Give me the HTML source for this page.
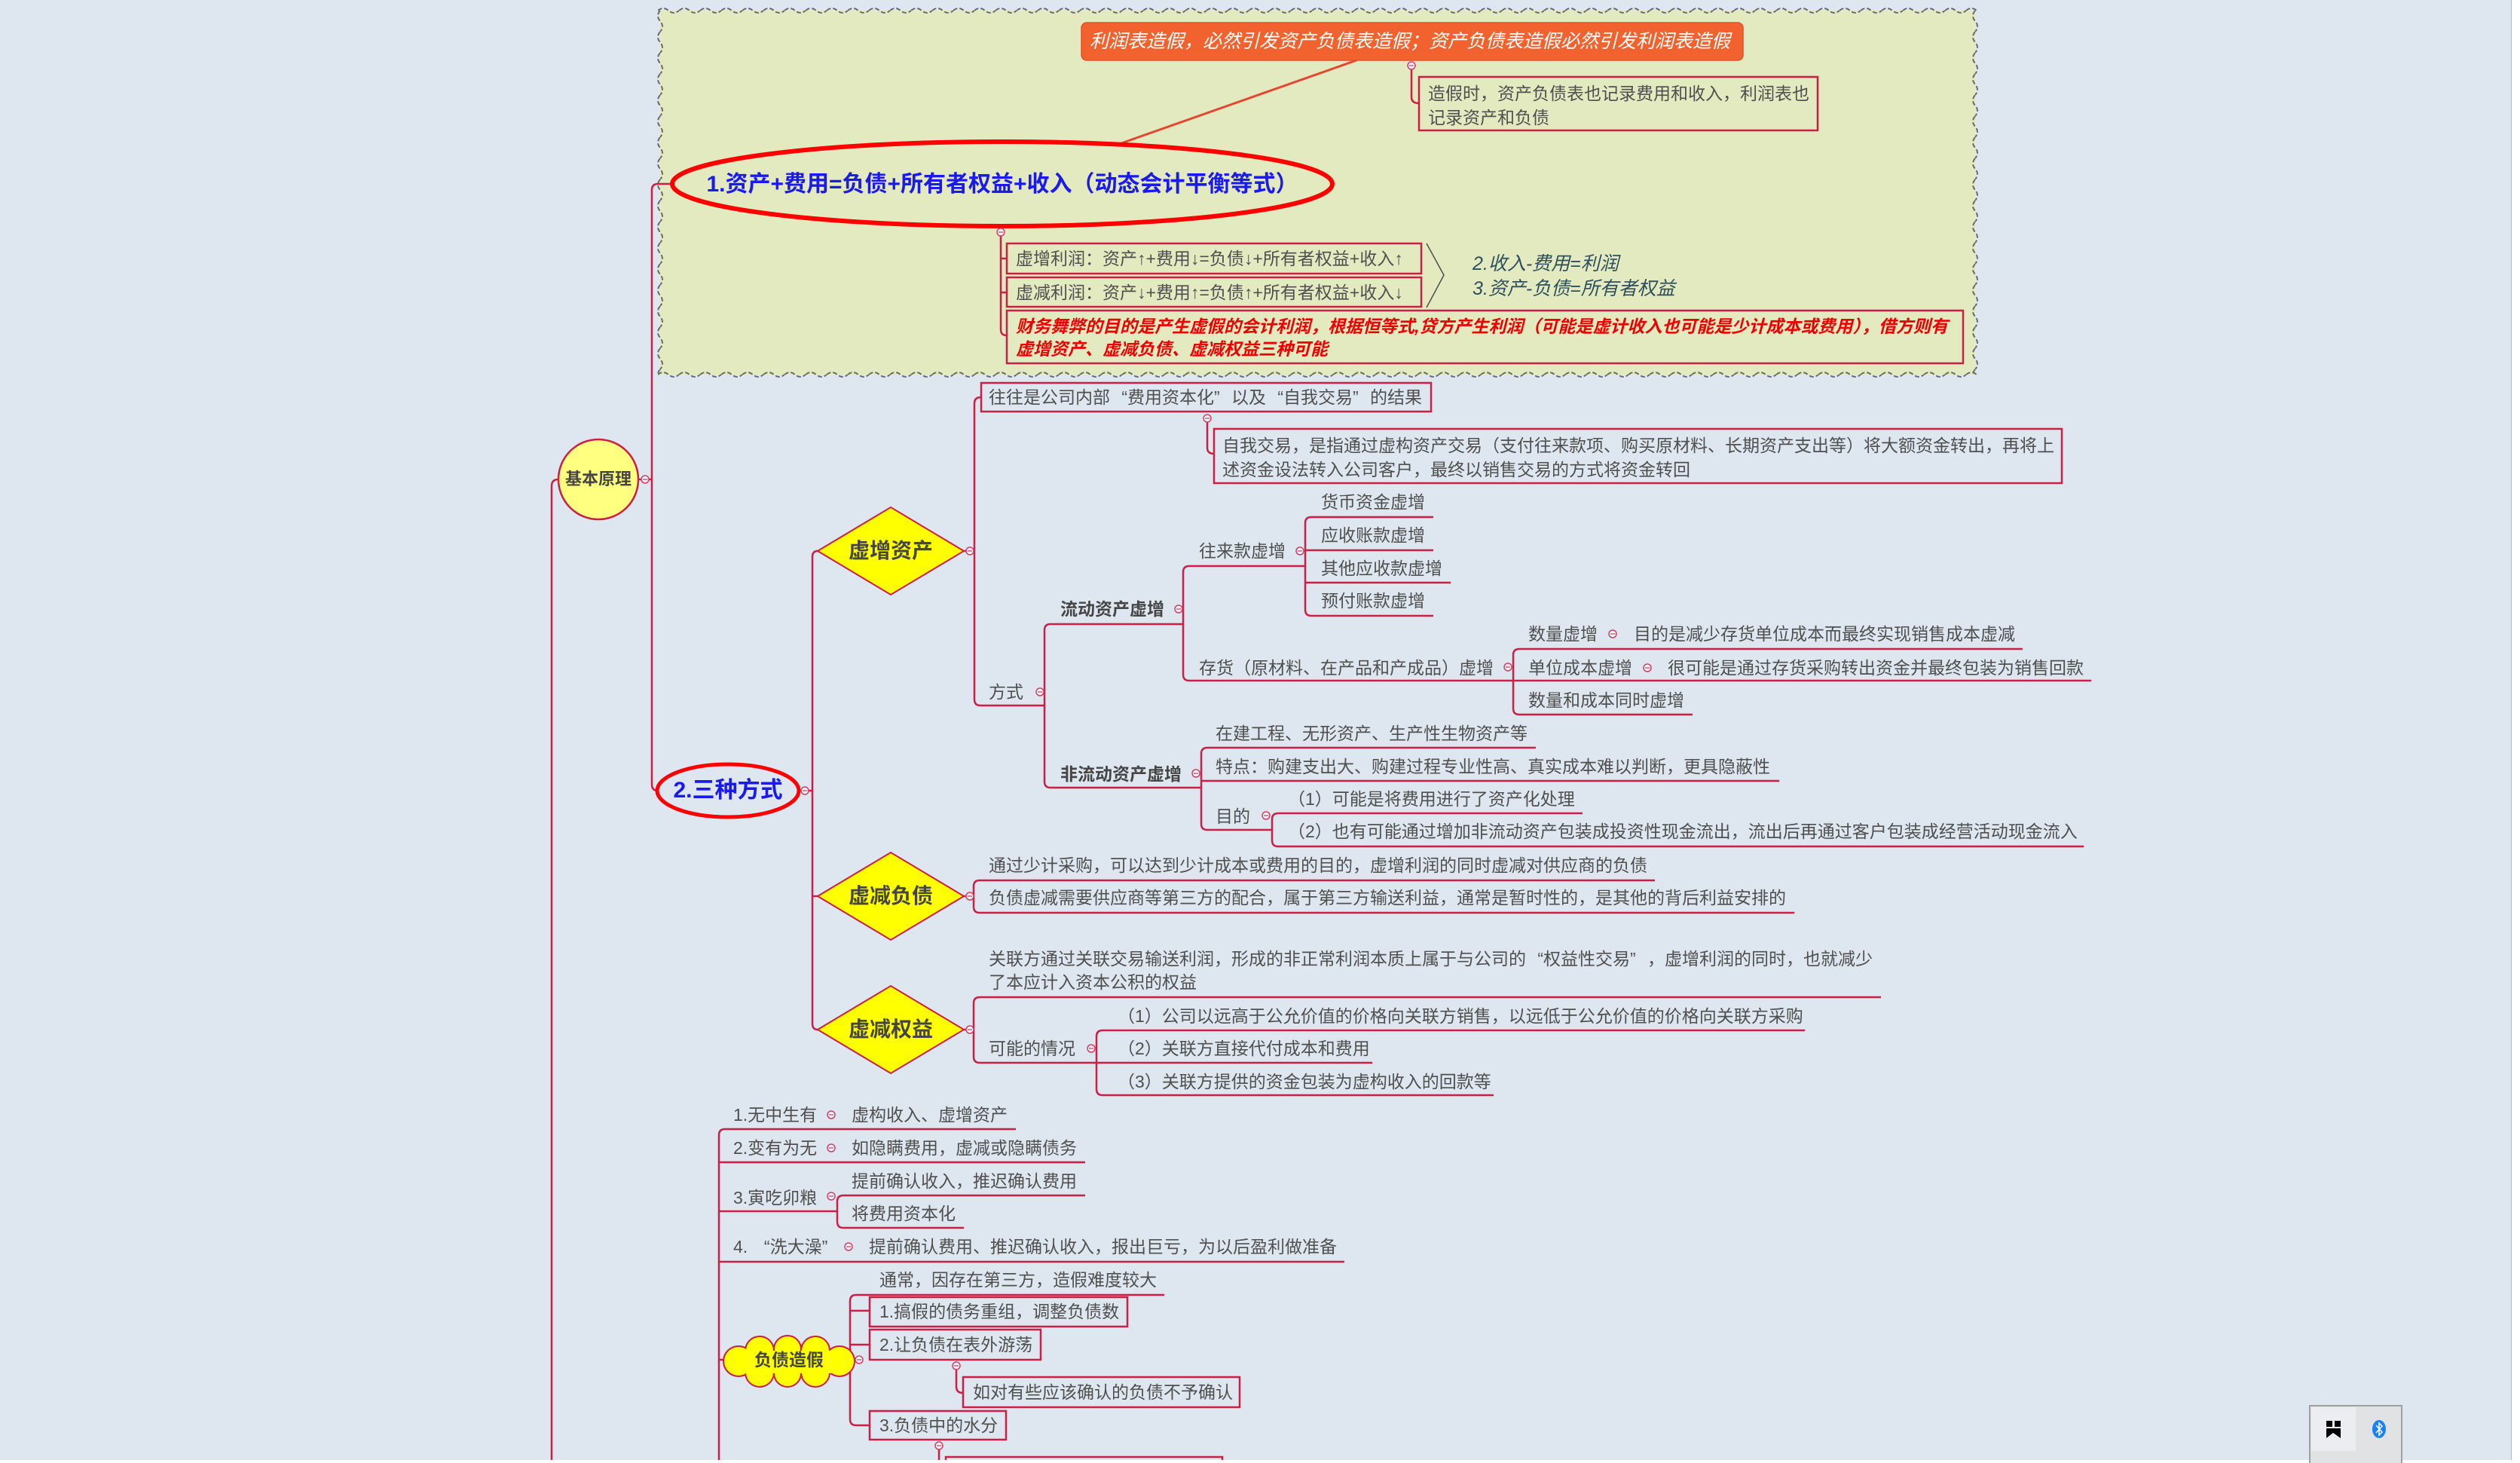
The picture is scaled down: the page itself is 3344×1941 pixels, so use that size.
<!DOCTYPE html>
<html>
<head>
<meta charset="utf-8">
<style>
html,body{margin:0;padding:0;}
body{width:3344px;height:1941px;overflow:hidden;position:relative;background:#dee7f0;font-family:"Liberation Sans","Noto Sans CJK SC",sans-serif;}
svg{position:absolute;left:0;top:0;}
.t{position:absolute;white-space:nowrap;font-size:23px;line-height:30px;color:#4f4f4f;font-family:"Liberation Sans","Noto Sans CJK SC",sans-serif;}
.b{font-weight:bold;color:#454545;}
.c{text-align:center;}
.qo{display:inline-block;width:23px;text-align:right;}
.qc{display:inline-block;width:23px;text-align:left;}
</style>
</head>
<body>
<svg width="3344" height="1941" viewBox="0 0 3344 1941">
<defs>
<pattern id="wh" x="873" y="8" width="28" height="12" patternUnits="userSpaceOnUse"><path d="M0 6 Q7 0 14 6 T28 6" fill="none" stroke="#6a6a6a" stroke-width="2" stroke-dasharray="6 3"/></pattern>
<pattern id="wh2" x="873" y="491" width="28" height="12" patternUnits="userSpaceOnUse"><path d="M0 6 Q7 0 14 6 T28 6" fill="none" stroke="#6a6a6a" stroke-width="2" stroke-dasharray="6 3"/></pattern>
<pattern id="wv" x="870" y="14" width="12" height="28" patternUnits="userSpaceOnUse"><path d="M6 0 Q0 7 6 14 T6 28" fill="none" stroke="#6a6a6a" stroke-width="2" stroke-dasharray="6 3"/></pattern>
<pattern id="wv2" x="2615" y="14" width="12" height="28" patternUnits="userSpaceOnUse"><path d="M6 0 Q0 7 6 14 T6 28" fill="none" stroke="#6a6a6a" stroke-width="2" stroke-dasharray="6 3"/></pattern>
</defs>

<!-- green boundary -->
<rect x="876" y="14" width="1745" height="483" fill="#e3eac0"/>
<rect x="873" y="8" width="1752" height="12" fill="url(#wh)"/>
<rect x="873" y="491" width="1752" height="12" fill="url(#wh2)"/>
<rect x="870" y="14" width="12" height="483" fill="url(#wv)"/>
<rect x="2615" y="14" width="12" height="483" fill="url(#wv2)"/>

<!-- connectors -->
<g stroke="#cc1f45" stroke-width="2.5" fill="none">
<path d="M892 244 H873 Q865 244 865 252 V1041 Q865 1049 873 1049"/>
<path d="M848 636 H865"/>
<path d="M741 636 Q732 636 732 645 V1941"/>
<path d="M1328 313 V437 Q1328 445 1336 445"/>
<path d="M1328 343 H1336 M1328 388 H1336"/>
<path d="M1873 92 V129 Q1873 137 1883 137"/>

<path d="M1061 1049 H1078"/>
<path d="M1085 731 Q1078 731 1078 739 V1358 Q1078 1366 1085 1366"/>
<path d="M1078 1189 H1085"/>
<path d="M1279 731 H1293 M1279 1189 H1292 M1279 1366 H1292"/>
<path d="M1302 527 Q1293 527 1293 535 V928 Q1293 936 1301 936 H1386"/>
<path d="M1602 560 V594 Q1602 602 1611 602"/>
<path d="M1570 828 H1394 Q1386 828 1386 836 V1037 Q1386 1045 1394 1045 H1594"/>
<path d="M1732 751 H1578 Q1570 751 1570 759 V895 Q1570 903 1578 903 H2775"/>
<path d="M1902 686 H1740 Q1732 686 1732 694 V809 Q1732 817 1740 817 H1902"/>
<path d="M1732 730 H1902 M1732 773 H1925"/>
<path d="M2684 861 H2016 Q2008 861 2008 869 V940 Q2008 948 2016 948 H2246"/>
<path d="M2038 992 H1602 Q1594 992 1594 1000 V1093 Q1594 1101 1602 1101 H1688"/>
<path d="M1594 1036 H2361"/>
<path d="M2100 1079 H1696 Q1688 1079 1688 1087 V1115 Q1688 1123 1696 1123 H2765"/>
<path d="M2196 1168 H1300 Q1292 1168 1292 1176 V1203 Q1292 1211 1300 1211 H2381"/>
<path d="M2496 1323 H1300 Q1292 1323 1292 1331 V1402 Q1292 1410 1300 1410 H1455"/>
<path d="M2395 1367 H1463 Q1455 1367 1455 1375 V1445 Q1455 1453 1463 1453 H1982"/>
<path d="M1455 1410 H1821"/>

<path d="M1348 1498 H962 Q954 1498 954 1506 V1941"/>
<path d="M954 1542 H1440 M954 1607 H1111 M954 1674 H1784 M954 1804 H962"/>
<path d="M1440 1586 H1119 Q1111 1586 1111 1594 V1621 Q1111 1629 1119 1629 H1279"/>
<path d="M1545 1718 H1136 Q1128 1718 1128 1726 V1883 Q1128 1891 1136 1891 H1154"/>
<path d="M1128 1739 H1154 M1128 1784 H1154"/>
<path d="M1269 1817 V1840 Q1269 1848 1278 1848"/>
<path d="M1246 1923 V1941"/>
</g>

<!-- boxes -->
<g stroke="#cc1f45" stroke-width="2.5" fill="none">
<rect x="1336" y="323" width="550" height="40"/>
<rect x="1336" y="368" width="550" height="39"/>
<rect x="1336" y="412" width="1269" height="70"/>
<rect x="1883" y="102" width="529" height="71"/>
<rect x="1302" y="508" width="597" height="38"/>
<rect x="1611" y="569" width="1125" height="72"/>
<rect x="1154" y="1721" width="342" height="39"/>
<rect x="1154" y="1764" width="227" height="40"/>
<rect x="1278" y="1827" width="367" height="40"/>
<rect x="1154" y="1872" width="181" height="38"/>
<rect x="1255" y="1933" width="367" height="20"/>
</g>

<!-- orange callout -->
<line x1="1488" y1="190" x2="1800" y2="80" stroke="#e8452e" stroke-width="3"/>
<rect x="1435" y="30" width="878" height="50" rx="7" fill="#f2622e" stroke="#e0532a" stroke-width="1.5"/>

<!-- ellipses -->
<ellipse cx="1330" cy="244" rx="438" ry="56" fill="none" stroke="#ff0000" stroke-width="6"/>
<ellipse cx="966" cy="1049" rx="94" ry="35" fill="none" stroke="#ff0000" stroke-width="5"/>

<!-- brace -->
<polyline points="1893,323 1916,365 1893,408" fill="none" stroke="#555" stroke-width="1.6"/>

<!-- basic circle -->
<circle cx="794" cy="636" r="53" fill="#ffff80" stroke="#cc1f45" stroke-width="2.5"/>

<!-- diamonds -->
<g fill="#ffff00" stroke="#cc1f45" stroke-width="2">
<polygon points="1085,731 1182,673 1279,731 1182,789"/>
<polygon points="1085,1189 1182,1131 1279,1189 1182,1247"/>
<polygon points="1085,1366 1182,1308 1279,1366 1182,1424"/>
</g>

<!-- cloud -->
<g fill="#ffff00" stroke="#cc1f45" stroke-width="4">
<circle cx="980" cy="1806" r="19"/>
<circle cx="1114" cy="1806" r="19"/>
<circle cx="1008" cy="1792" r="18"/>
<circle cx="1045" cy="1790" r="17"/>
<circle cx="1082" cy="1792" r="18"/>
<circle cx="1008" cy="1821" r="18"/>
<circle cx="1045" cy="1822" r="17"/>
<circle cx="1082" cy="1821" r="18"/>
</g>
<g fill="#ffff00">
<circle cx="980" cy="1806" r="19"/>
<circle cx="1114" cy="1806" r="19"/>
<circle cx="1008" cy="1792" r="18"/>
<circle cx="1045" cy="1790" r="17"/>
<circle cx="1082" cy="1792" r="18"/>
<circle cx="1008" cy="1821" r="18"/>
<circle cx="1045" cy="1822" r="17"/>
<circle cx="1082" cy="1821" r="18"/>
<rect x="985" y="1792" width="128" height="30"/>
</g>

<!-- collapse markers -->
<g stroke="#d04065" stroke-width="1.5" fill="#f3f3f5">
<circle cx="856" cy="636" r="5"/><circle cx="1328" cy="308" r="5"/><circle cx="1873" cy="87" r="5"/>
<circle cx="1068" cy="1049" r="5"/><circle cx="1287" cy="731" r="5"/><circle cx="1287" cy="1189" r="5"/>
<circle cx="1287" cy="1366" r="5"/><circle cx="1602" cy="555" r="5"/><circle cx="1380" cy="918" r="5"/>
<circle cx="1564" cy="808" r="5"/><circle cx="1725" cy="731" r="5"/><circle cx="2001" cy="885" r="5"/>
<circle cx="2140" cy="841" r="5"/><circle cx="2186" cy="886" r="5"/><circle cx="1587" cy="1026" r="5"/>
<circle cx="1680" cy="1082" r="5"/><circle cx="1448" cy="1391" r="5"/><circle cx="1103" cy="1479" r="5"/>
<circle cx="1103" cy="1523" r="5"/><circle cx="1103" cy="1587" r="5"/><circle cx="1126" cy="1654" r="5"/>
<circle cx="1140" cy="1804" r="5"/><circle cx="1269" cy="1812" r="5"/><circle cx="1246" cy="1918" r="5"/>
</g>
<g stroke="#d04065" stroke-width="1.3">
<path d="M853 636h6M1325 308h6M1870 87h6M1065 1049h6M1284 731h6M1284 1189h6M1284 1366h6M1599 555h6M1377 918h6M1561 808h6M1722 731h6M1998 885h6M2137 841h6M2183 886h6M1584 1026h6M1677 1082h6M1445 1391h6M1100 1479h6M1100 1523h6M1100 1587h6M1123 1654h6M1137 1804h6M1266 1812h6M1243 1918h6"/>
</g>

<!-- bottom-right popup -->
<rect x="3333" y="0" width="11" height="1941" fill="#ffffff"/>
<line x1="3332.5" y1="0" x2="3332.5" y2="1937" stroke="#b5b8bc" stroke-width="1"/>
<rect x="0" y="1937" width="3344" height="4" fill="#ffffff"/>
<rect x="3065" y="1865" width="122" height="80" fill="#e1e2e4" stroke="#a0a0a0" stroke-width="2"/>
<rect x="3067" y="1867" width="59" height="58" fill="#ecedf0"/>
<rect x="3087" y="1885" width="8" height="8" fill="#000"/>
<rect x="3098" y="1885" width="8" height="8" fill="#000"/>
<polygon points="3087,1895 3106,1895 3106,1908 3096,1901 3087,1908" fill="#000"/>
<ellipse cx="3157" cy="1896" rx="9" ry="12" fill="#1a82f0"/>
<path d="M3153 1891 L3161 1900 L3157 1904 V1888 L3161 1892 L3153 1901" fill="none" stroke="#fff" stroke-width="1.5"/>
</svg>

<!-- top area texts -->
<div class="t" style="left:1446px;top:38px;font-size:25px;line-height:34px;color:#ffffff;font-style:italic;">利润表造假，必然引发资产负债表造假；资产负债表造假必然引发利润表造假</div>
<div class="t" style="left:1895px;top:108px;line-height:32px;">造假时，资产负债表也记录费用和收入，利润表也<br>记录资产和负债</div>
<div class="t c" style="left:892px;top:225px;width:876px;font-size:30px;line-height:40px;font-weight:bold;color:#1a1aee;">1.资产+费用=负债+所有者权益+收入（动态会计平衡等式）</div>
<div class="t" style="left:1348px;top:328px;">虚增利润：资产↑+费用↓=负债↓+所有者权益+收入↑</div>
<div class="t" style="left:1348px;top:373px;">虚减利润：资产↓+费用↑=负债↑+所有者权益+收入↓</div>
<div class="t" style="left:1348px;top:418px;line-height:30px;color:#ee0000;font-weight:bold;font-style:italic;">财务舞弊的目的是产生虚假的会计利润，根据恒等式,贷方产生利润（可能是虚计收入也可能是少计成本或费用），借方则有<br>虚增资产、虚减负债、虚减权益三种可能</div>
<div class="t" style="left:1954px;top:334px;font-size:25px;line-height:32px;font-style:italic;color:#2d4f5e;">2.收入-费用=利润</div>
<div class="t" style="left:1954px;top:367px;font-size:25px;line-height:32px;font-style:italic;color:#2d4f5e;">3.资产-负债=所有者权益</div>

<!-- central nodes -->
<div class="t c b" style="left:734px;top:621px;width:120px;font-size:22px;">基本原理</div>
<div class="t c" style="left:876px;top:1029px;width:180px;font-size:30px;line-height:40px;font-weight:bold;color:#1a1aee;">2.三种方式</div>
<div class="t c b" style="left:1082px;top:713px;width:200px;font-size:28px;line-height:36px;">虚增资产</div>
<div class="t c b" style="left:1082px;top:1171px;width:200px;font-size:28px;line-height:36px;">虚减负债</div>
<div class="t c b" style="left:1082px;top:1348px;width:200px;font-size:28px;line-height:36px;">虚减权益</div>
<div class="t c b" style="left:987px;top:1789px;width:120px;font-size:23px;">负债造假</div>

<!-- 虚增资产 branch -->
<div class="t" style="left:1312px;top:512px;">往往是公司内部<span class="qo">“</span>费用资本化<span class="qc">”</span>以及<span class="qo">“</span>自我交易<span class="qc">”</span>的结果</div>
<div class="t" style="left:1622px;top:575px;line-height:32px;">自我交易，是指通过虚构资产交易（支付往来款项、购买原材料、长期资产支出等）将大额资金转出，再将上<br>述资金设法转入公司客户，最终以销售交易的方式将资金转回</div>
<div class="t" style="left:1312px;top:903px;">方式</div>
<div class="t b" style="left:1407px;top:793px;">流动资产虚增</div>
<div class="t" style="left:1591px;top:716px;">往来款虚增</div>
<div class="t" style="left:1753px;top:651px;">货币资金虚增</div>
<div class="t" style="left:1753px;top:695px;">应收账款虚增</div>
<div class="t" style="left:1753px;top:739px;">其他应收款虚增</div>
<div class="t" style="left:1753px;top:782px;">预付账款虚增</div>
<div class="t" style="left:1591px;top:871px;">存货（原材料、在产品和产成品）虚增</div>
<div class="t" style="left:2028px;top:826px;">数量虚增</div>
<div class="t" style="left:2168px;top:826px;">目的是减少存货单位成本而最终实现销售成本虚减</div>
<div class="t" style="left:2028px;top:871px;">单位成本虚增</div>
<div class="t" style="left:2213px;top:871px;">很可能是通过存货采购转出资金并最终包装为销售回款</div>
<div class="t" style="left:2028px;top:914px;">数量和成本同时虚增</div>
<div class="t b" style="left:1407px;top:1012px;">非流动资产虚增</div>
<div class="t" style="left:1613px;top:958px;">在建工程、无形资产、生产性生物资产等</div>
<div class="t" style="left:1613px;top:1002px;">特点：购建支出大、购建过程专业性高、真实成本难以判断，更具隐蔽性</div>
<div class="t" style="left:1613px;top:1068px;">目的</div>
<div class="t" style="left:1709px;top:1045px;">（1）可能是将费用进行了资产化处理</div>
<div class="t" style="left:1709px;top:1088px;">（2）也有可能通过增加非流动资产包装成投资性现金流出，流出后再通过客户包装成经营活动现金流入</div>

<!-- 虚减负债 -->
<div class="t" style="left:1312px;top:1133px;">通过少计采购，可以达到少计成本或费用的目的，虚增利润的同时虚减对供应商的负债</div>
<div class="t" style="left:1312px;top:1176px;">负债虚减需要供应商等第三方的配合，属于第三方输送利益，通常是暂时性的，是其他的背后利益安排的</div>

<!-- 虚减权益 -->
<div class="t" style="left:1312px;top:1257px;line-height:31px;">关联方通过关联交易输送利润，形成的非正常利润本质上属于与公司的<span class="qo">“</span>权益性交易<span class="qc">”</span>，虚增利润的同时，也就减少<br>了本应计入资本公积的权益</div>
<div class="t" style="left:1312px;top:1376px;">可能的情况</div>
<div class="t" style="left:1483px;top:1333px;">（1）公司以远高于公允价值的价格向关联方销售，以远低于公允价值的价格向关联方采购</div>
<div class="t" style="left:1483px;top:1376px;">（2）关联方直接代付成本和费用</div>
<div class="t" style="left:1483px;top:1420px;">（3）关联方提供的资金包装为虚构收入的回款等</div>

<!-- lower group -->
<div class="t" style="left:973px;top:1464px;">1.无中生有</div>
<div class="t" style="left:1130px;top:1464px;">虚构收入、虚增资产</div>
<div class="t" style="left:973px;top:1508px;">2.变有为无</div>
<div class="t" style="left:1130px;top:1508px;">如隐瞒费用，虚减或隐瞒债务</div>
<div class="t" style="left:973px;top:1574px;">3.寅吃卯粮</div>
<div class="t" style="left:1130px;top:1552px;">提前确认收入，推迟确认费用</div>
<div class="t" style="left:1130px;top:1595px;">将费用资本化</div>
<div class="t" style="left:973px;top:1639px;">4. <span class="qo">“</span>洗大澡<span class="qc">”</span></div>
<div class="t" style="left:1153px;top:1639px;">提前确认费用、推迟确认收入，报出巨亏，为以后盈利做准备</div>
<div class="t" style="left:1167px;top:1683px;">通常，因存在第三方，造假难度较大</div>
<div class="t" style="left:1167px;top:1725px;">1.搞假的债务重组，调整负债数</div>
<div class="t" style="left:1167px;top:1769px;">2.让负债在表外游荡</div>
<div class="t" style="left:1291px;top:1832px;">如对有些应该确认的负债不予确认</div>
<div class="t" style="left:1167px;top:1876px;">3.负债中的水分</div>
</body>
</html>
